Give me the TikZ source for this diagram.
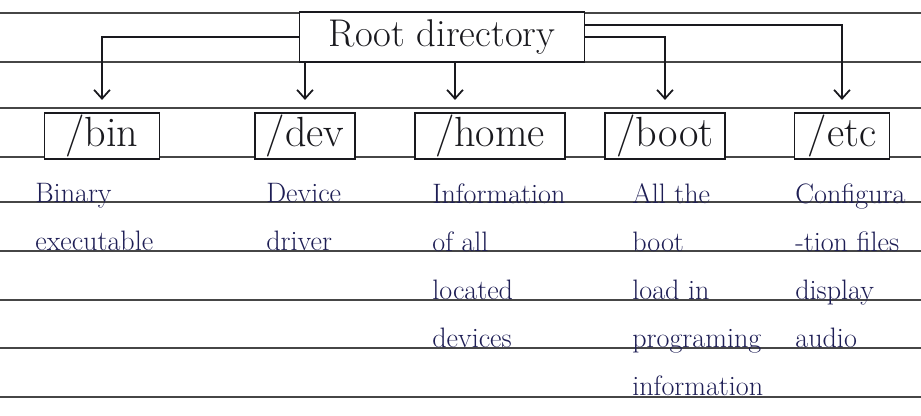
\documentclass[tikz,border=0pt]{standalone}
\usepackage{xcolor}
\usepackage{tikz}
\usetikzlibrary{arrows.meta, positioning}
\definecolor{inkblack}{RGB}{25,25,30}
\definecolor{inkblue}{RGB}{30,30,85}
\definecolor{ruled}{RGB}{70,70,70}
\tikzset{
  rootbox/.style={rectangle, draw=inkblack, fill=white, text=inkblack,
    minimum width=5.7cm, minimum height=1cm,
    font=\fontsize{22}{24}\selectfont, line width=1.1pt},
  dirbox/.style={rectangle, draw=inkblack, fill=white, text=inkblack,
    minimum height=0.84cm, inner sep=1pt,
    font=\fontsize{24}{26}\selectfont, line width=1.1pt},
  note/.style={anchor=base west, align=left, inner sep=0pt, text=inkblue,
    font=\fontsize{16}{27.3}\selectfont},
  arrow/.style={-{Straight Barb[length=5pt, width=9pt]}, line width=1pt,
    color=inkblack, shorten >=7pt},
  rule/.style={line width=0.9pt, color=ruled}
}

\begin{document}
\begin{tikzpicture}[x=0.02cm, y=-0.02cm]
  \useasboundingbox (0,0) rectangle (921,416);

  % ruled lines of the page
  \foreach \ly in {13,62,108,157,202,251,300,348,397}
    \draw[rule] (0,\ly) -- (921,\ly);

  \node[rootbox] (root) at (442,37) {Root directory};

  \node[dirbox, minimum width=2.3cm] (bin)  at (102,136) {/bin};
  \node[dirbox, minimum width=2.0cm] (dev)  at (305,136) {/dev};
  \node[dirbox, minimum width=3.0cm] (home) at (490,136) {/home};
  \node[dirbox, minimum width=2.4cm] (boot) at (665,136) {/boot};
  \node[dirbox, minimum width=1.9cm] (etc)  at (842,136) {/etc};

  \draw[arrow] (root.west) -| (bin.north);
  \draw[arrow] (root.south -| dev.north) -- (dev.north);
  \draw[arrow] ([xshift=-0.7cm]root.south -| home.north) -- ([xshift=-0.7cm]home.north);
  \draw[arrow] (root.east) -| (boot.north);
  \draw[arrow] ([yshift=-8pt]root.north east) -| (etc.north);

  % base anchor sits on the last line
  \node[note] (bintxt)  at (35,250)  {Binary\\executable};
  \node[note] (devtxt)  at (266,250) {Device\\driver};
  \node[note] (hometxt) at (432,347) {Information\\of all\\located\\devices};
  \node[note] (boottxt) at (632,395) {All the\\boot\\load in\\programing\\information};
  \node[note] (etctxt)  at (795,347) {Configura\\-tion files\\display\\audio};
\end{tikzpicture}
\end{document}
